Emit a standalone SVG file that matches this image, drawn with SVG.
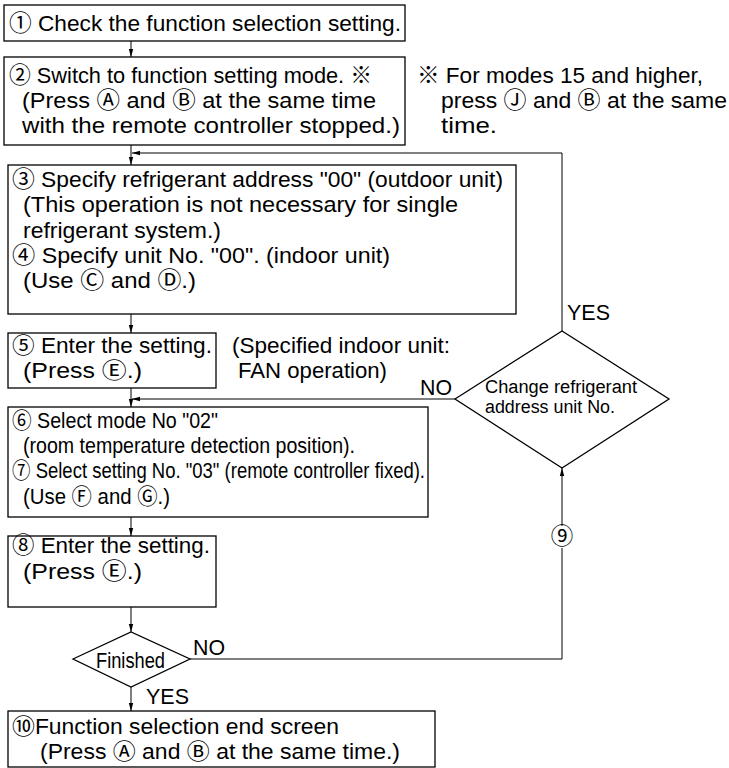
<svg xmlns="http://www.w3.org/2000/svg" width="729" height="768" viewBox="0 0 729 768">
<style>
.box{fill:#fff;stroke:#000;stroke-width:1.3}
.ln{fill:none;stroke:#000;stroke-width:1}
text{font-family:"Liberation Sans","Noto Sans CJK JP","DejaVu Sans",sans-serif;font-size:22.5px;fill:#000}
.n{font-family:"Liberation Sans Narrow","Liberation Sans","Noto Sans CJK JP",sans-serif;font-size:22px}
.d{font-family:"Liberation Sans Narrow","Liberation Sans","Noto Sans CJK JP",sans-serif;font-size:18px}
</style>
<defs>
<marker id="ah" viewBox="0 0 8 6" refX="8" refY="3" markerWidth="8" markerHeight="6" markerUnits="userSpaceOnUse" orient="auto">
<path d="M0,0.8 L8,3 L0,5.2 Z" fill="#000"/>
</marker>
</defs>
<rect width="729" height="768" fill="#fff"/>
<g id="connectors">
<line class="ln" x1="131" y1="41" x2="131" y2="57" marker-end="url(#ah)"/>
<line class="ln" x1="131" y1="145" x2="131" y2="165" marker-end="url(#ah)"/>
<polyline class="ln" points="562,331 562,153 132,153" marker-end="url(#ah)"/>
<line class="ln" x1="131" y1="314" x2="131" y2="333" marker-end="url(#ah)"/>
<line class="ln" x1="131" y1="388" x2="131" y2="407" marker-end="url(#ah)"/>
<line class="ln" x1="455" y1="399" x2="132" y2="399" marker-end="url(#ah)"/>
<line class="ln" x1="131" y1="517" x2="131" y2="536" marker-end="url(#ah)"/>
<line class="ln" x1="131" y1="607" x2="131" y2="632" marker-end="url(#ah)"/>
<line class="ln" x1="131" y1="687" x2="131" y2="711" marker-end="url(#ah)"/>
<polyline class="ln" points="190,659 562,659 562,548"/>
<line class="ln" x1="562" y1="526" x2="562" y2="468" marker-end="url(#ah)"/>
<text x="562" y="544" text-anchor="middle" font-size="20">⑨</text>
<text x="420" y="395" textLength="32" lengthAdjust="spacingAndGlyphs">NO</text>
<text x="567" y="320" textLength="43" lengthAdjust="spacingAndGlyphs">YES</text>
<text x="193" y="655" textLength="32" lengthAdjust="spacingAndGlyphs">NO</text>
<text x="146" y="704" textLength="43" lengthAdjust="spacingAndGlyphs">YES</text>
</g>
<g id="step1">
<rect class="box" x="4" y="5" width="401" height="36"/>
<text x="9" y="31" textLength="392" lengthAdjust="spacingAndGlyphs">① Check the function selection setting.</text>
</g>
<g id="step2">
<rect class="box" x="4" y="57" width="401" height="88"/>
<text x="9" y="83" textLength="363" lengthAdjust="spacingAndGlyphs">② Switch to function setting mode. ※</text>
<text x="22" y="108" textLength="354" lengthAdjust="spacingAndGlyphs">(Press Ⓐ and Ⓑ at the same time</text>
<text x="22" y="133" textLength="378" lengthAdjust="spacingAndGlyphs">with the remote controller stopped.)</text>
</g>
<g id="note">
<text x="417" y="83" textLength="286" lengthAdjust="spacingAndGlyphs">※ For modes 15 and higher,</text>
<text x="441" y="108" textLength="286" lengthAdjust="spacingAndGlyphs">press Ⓙ and Ⓑ at the same</text>
<text x="441" y="133" textLength="56" lengthAdjust="spacingAndGlyphs">time.</text>
</g>
<g id="step3-4">
<rect class="box" x="8" y="165" width="508" height="149"/>
<text x="12" y="187" textLength="491" lengthAdjust="spacingAndGlyphs">③ Specify refrigerant address "00" (outdoor unit)</text>
<text x="23" y="212" textLength="435" lengthAdjust="spacingAndGlyphs">(This operation is not necessary for single</text>
<text x="23" y="238" textLength="198" lengthAdjust="spacingAndGlyphs">refrigerant system.)</text>
<text x="12" y="263" textLength="378" lengthAdjust="spacingAndGlyphs">④ Specify unit No. "00". (indoor unit)</text>
<text x="23" y="288" textLength="173" lengthAdjust="spacingAndGlyphs">(Use Ⓒ and Ⓓ.)</text>
</g>
<g id="step5">
<rect class="box" x="8" y="333" width="208" height="55"/>
<text class="n" x="12" y="353" textLength="200" lengthAdjust="spacingAndGlyphs">⑤ Enter the setting.</text>
<text class="n" x="23" y="378" textLength="119" lengthAdjust="spacingAndGlyphs">(Press Ⓔ.)</text>
<text class="n" x="232" y="353" textLength="218" lengthAdjust="spacingAndGlyphs">(Specified indoor unit:</text>
<text class="n" x="238" y="378" textLength="149" lengthAdjust="spacingAndGlyphs">FAN operation)</text>
</g>
<g id="decision-change">
<polygon class="box" points="455,399 562,331 669,399 562,468"/>
<text class="d" x="485" y="393" textLength="152" lengthAdjust="spacingAndGlyphs">Change refrigerant</text>
<text class="d" x="485" y="413" textLength="130" lengthAdjust="spacingAndGlyphs">address unit No.</text>
</g>
<g id="step6-7">
<rect class="box" x="8" y="407" width="420" height="110"/>
<text class="n" x="12" y="428" textLength="206" lengthAdjust="spacingAndGlyphs">⑥ Select mode No "02"</text>
<text class="n" x="23" y="453" textLength="332" lengthAdjust="spacingAndGlyphs">(room temperature detection position).</text>
<text class="n" x="12" y="478" textLength="413" lengthAdjust="spacingAndGlyphs">⑦ Select setting No. "03" (remote controller fixed).</text>
<text class="n" x="23" y="504" textLength="147" lengthAdjust="spacingAndGlyphs">(Use Ⓕ and Ⓖ.)</text>
</g>
<g id="step8">
<rect class="box" x="8" y="536" width="208" height="71"/>
<text x="12" y="553" textLength="198" lengthAdjust="spacingAndGlyphs">⑧ Enter the setting.</text>
<text x="23" y="579" textLength="119" lengthAdjust="spacingAndGlyphs">(Press Ⓔ.)</text>
</g>
<g id="decision-finished">
<polygon class="box" points="73,659 131,632 190,659 131,687"/>
<text class="n" x="96" y="668" textLength="69" lengthAdjust="spacingAndGlyphs">Finished</text>
</g>
<g id="step10">
<rect class="box" x="8" y="711" width="427" height="56"/>
<text class="n" x="12" y="734" textLength="327" lengthAdjust="spacingAndGlyphs">⑩Function selection end screen</text>
<text class="n" x="40" y="759" textLength="360" lengthAdjust="spacingAndGlyphs">(Press Ⓐ and Ⓑ at the same time.)</text>
</g>
</svg>
